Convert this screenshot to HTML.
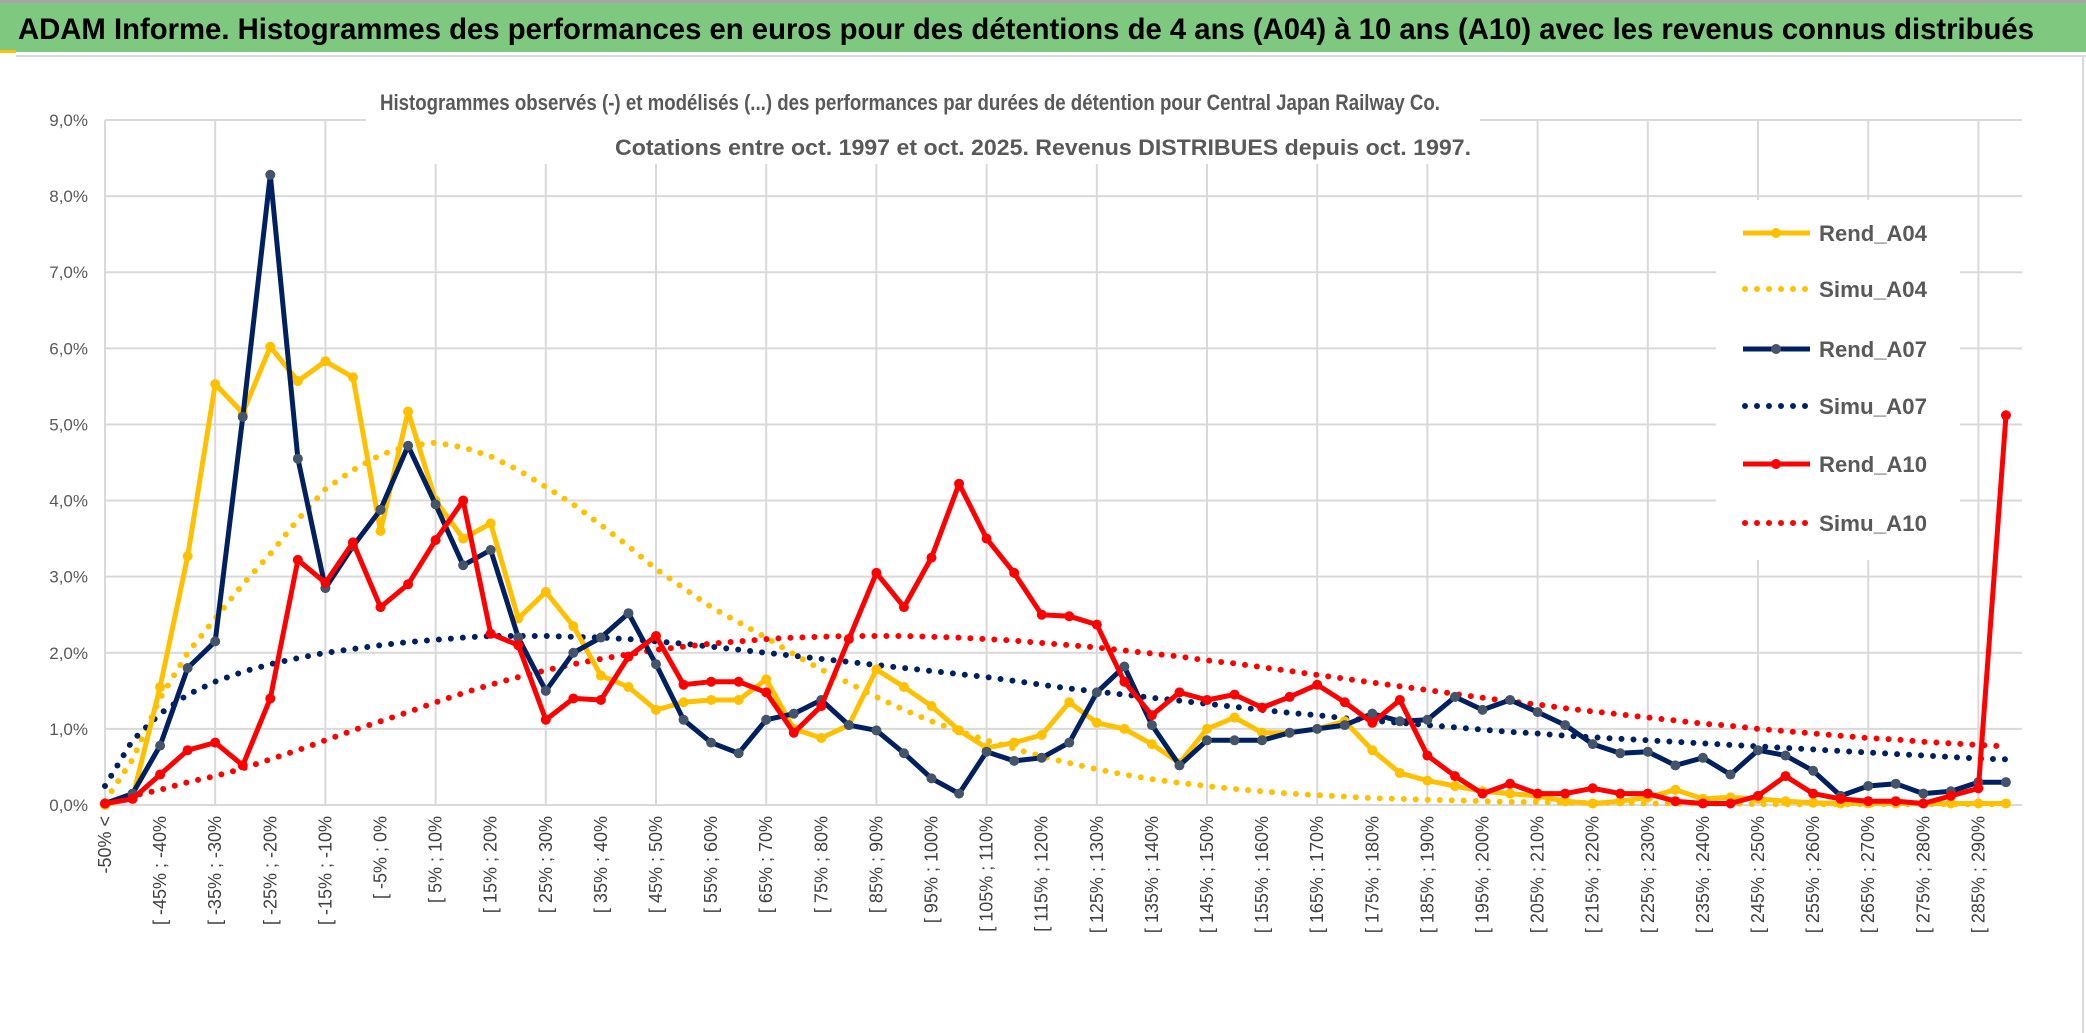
<!DOCTYPE html>
<html><head><meta charset="utf-8">
<style>
html,body{margin:0;padding:0;background:#fff;}
svg{display:block;font-family:"Liberation Sans",sans-serif;}
</style></head>
<body>
<svg id="chart" width="2086" height="1033" viewBox="0 0 2086 1033" xmlns="http://www.w3.org/2000/svg">
  <rect x="0" y="0" width="2086" height="1033" fill="#fff"/>
  <rect x="0" y="0" width="2086" height="3" fill="#a6a6a6"/>
  <rect x="0" y="3" width="2086" height="49" fill="#7ec87f"/>
  <rect x="0" y="50" width="16" height="3" fill="#ffc000"/>
  <rect x="16" y="55" width="2070" height="2" fill="#d9d9d9"/>
  <text x="18" y="39" font-size="30" font-weight="bold" fill="#000" textLength="2016" lengthAdjust="spacingAndGlyphs">ADAM Informe. Histogrammes des performances en euros pour des détentions de 4 ans (A04) à 10 ans (A10) avec les revenus connus distribués</text>
  <rect x="2082" y="57" width="2" height="976" fill="#d9d9d9"/>
  <g id="grid"></g>
  <rect x="366" y="78" width="1114" height="86" fill="#fff"/>
  <text x="910" y="110" font-size="22" font-weight="bold" fill="#595959" text-anchor="middle" textLength="1060" lengthAdjust="spacingAndGlyphs">Histogrammes observés (-) et modélisés (...) des performances par durées de détention pour Central Japan Railway Co.</text>
  <text x="1043" y="155" font-size="22" font-weight="bold" fill="#595959" text-anchor="middle" textLength="856" lengthAdjust="spacingAndGlyphs">Cotations entre oct. 1997 et oct. 2025. Revenus DISTRIBUES depuis oct. 1997.</text>
  <g id="yaxis"></g>
  <g id="xaxis"></g>
  <g id="series"></g>
  <g id="legend"></g>
</svg>
<script>
const yTicks = [0,1,2,3,4,5,6,7,8,9];
const yTickLabels = ["0,0%","1,0%","2,0%","3,0%","4,0%","5,0%","6,0%","7,0%","8,0%","9,0%"];
const categories = ["-50% <"];
for (let a = -50; a < 295; a += 5) categories.push("[ " + a + "% ; " + (a + 5) + "%");
const rendA04 = [0.0,0.1,1.55,3.27,5.53,5.15,6.02,5.57,5.83,5.62,3.6,5.17,4.0,3.5,3.7,2.45,2.8,2.35,1.7,1.55,1.25,1.35,1.38,1.38,1.65,1.0,0.88,1.05,1.78,1.55,1.3,0.98,0.75,0.82,0.92,1.35,1.08,1.0,0.8,0.55,1.0,1.15,0.95,0.95,1.0,1.1,0.72,0.42,0.32,0.25,0.18,0.15,0.12,0.05,0.02,0.05,0.1,0.2,0.08,0.1,0.08,0.05,0.03,0.02,0.02,0.02,0.02,0.02,0.02,0.02];
const simuA04 = [0.05,0.6,1.4,2.0,2.45,2.9,3.3,3.75,4.15,4.4,4.6,4.72,4.76,4.7,4.58,4.4,4.18,3.95,3.68,3.4,3.1,2.85,2.6,2.4,2.2,1.98,1.78,1.6,1.42,1.25,1.1,0.97,0.85,0.74,0.64,0.55,0.47,0.4,0.34,0.29,0.25,0.21,0.18,0.15,0.13,0.11,0.09,0.08,0.07,0.06,0.05,0.04,0.04,0.03,0.03,0.03,0.02,0.02,0.02,0.02,0.01,0.01,0.01,0.01,0.01,0.01,0.01,0.01,0.01,0.01];
const rendA07 = [0.02,0.15,0.78,1.8,2.15,5.1,8.28,4.55,2.85,3.4,3.88,4.72,3.95,3.15,3.35,2.2,1.5,2.0,2.2,2.52,1.85,1.12,0.82,0.68,1.12,1.2,1.38,1.05,0.98,0.68,0.35,0.15,0.7,0.58,0.62,0.82,1.48,1.82,1.05,0.52,0.85,0.85,0.85,0.95,1.0,1.05,1.2,1.1,1.12,1.42,1.25,1.38,1.22,1.05,0.8,0.68,0.7,0.52,0.62,0.4,0.72,0.65,0.45,0.12,0.25,0.28,0.15,0.18,0.3,0.3];
const simuA07 = [0.25,0.85,1.2,1.45,1.62,1.75,1.85,1.93,2.0,2.05,2.1,2.14,2.17,2.2,2.22,2.22,2.22,2.21,2.2,2.18,2.15,2.12,2.08,2.04,2.0,1.96,1.92,1.88,1.84,1.8,1.76,1.72,1.68,1.63,1.58,1.53,1.49,1.45,1.41,1.37,1.33,1.29,1.25,1.21,1.18,1.14,1.11,1.08,1.05,1.02,0.99,0.96,0.94,0.91,0.89,0.87,0.85,0.83,0.81,0.79,0.77,0.75,0.73,0.71,0.69,0.67,0.65,0.63,0.61,0.6];
const rendA10 = [0.02,0.08,0.4,0.72,0.82,0.52,1.4,3.22,2.92,3.45,2.6,2.9,3.48,4.0,2.25,2.1,1.12,1.4,1.38,1.95,2.22,1.58,1.62,1.62,1.48,0.95,1.3,2.18,3.05,2.6,3.25,4.22,3.5,3.05,2.5,2.48,2.37,1.62,1.18,1.48,1.38,1.45,1.28,1.42,1.58,1.35,1.08,1.38,0.65,0.38,0.15,0.28,0.15,0.15,0.22,0.15,0.15,0.05,0.02,0.02,0.12,0.38,0.15,0.08,0.05,0.05,0.02,0.12,0.22,5.12];
const simuA10 = [0.02,0.12,0.2,0.3,0.38,0.48,0.6,0.72,0.85,0.98,1.1,1.22,1.35,1.47,1.58,1.68,1.77,1.85,1.92,1.98,2.04,2.08,2.12,2.15,2.18,2.2,2.21,2.22,2.22,2.22,2.21,2.2,2.18,2.16,2.13,2.1,2.07,2.03,1.99,1.95,1.9,1.86,1.81,1.76,1.71,1.66,1.61,1.56,1.51,1.46,1.41,1.36,1.32,1.27,1.23,1.19,1.15,1.11,1.07,1.04,1.0,0.97,0.94,0.91,0.88,0.86,0.83,0.81,0.79,0.77];
const seriesNames = ["Rend_A04","Simu_A04","Rend_A07","Simu_A07","Rend_A10","Simu_A10"];

const NS = "http://www.w3.org/2000/svg";
const PL = 105, PR = 2022, Y0 = 805, Y9 = 120;
const STEP = 27.55;
function xPos(i){ return PL + i * STEP; }
function yPos(v){ return Y0 - (v / 9) * (Y0 - Y9); }
function mk(tag, attrs, parent){
  const el = document.createElementNS(NS, tag);
  for (const k in attrs) el.setAttribute(k, attrs[k]);
  parent.appendChild(el);
  return el;
}
const grid = document.getElementById('grid');
yTicks.forEach(t => {
  const l = mk('line', {x1: PL, x2: PR, y1: yPos(t), y2: yPos(t), stroke: '#d9d9d9', 'stroke-width': 2}, grid);
  
  
});
for (let i = 0; i < categories.length; i += 4) {
  const l = mk('line', {x1: xPos(i), x2: xPos(i), y1: Y9, y2: Y0, stroke: '#d9d9d9', 'stroke-width': 2}, grid);
  
  
}
const yaxis = document.getElementById('yaxis');
yTicks.forEach((t, k) => {
  const tx = mk('text', {x: 88, y: yPos(t) + 6, 'font-size': 17, fill: '#595959', 'text-anchor': 'end'}, yaxis);
  tx.textContent = yTickLabels[k];
  
  
});
const xaxis = document.getElementById('xaxis');
categories.forEach((c, i) => {
  if (i % 2 !== 0) return;
  const x = xPos(i) + 6, y = 816;
  const tx = mk('text', {x: x, y: y, 'font-size': 18, fill: '#404040', 'text-anchor': 'end', transform: 'rotate(-90 ' + x + ' ' + y + ')'}, xaxis);
  tx.textContent = c;
  
  
});
const ser = document.getElementById('series');
function pts(arr){ return arr.map((v, i) => xPos(i).toFixed(1) + ',' + yPos(v).toFixed(1)).join(' '); }
function dotted(arr, color, name){
  const p = mk('polyline', {points: pts(arr), fill: 'none', stroke: color, 'stroke-width': 6, 'stroke-linecap': 'round', 'stroke-dasharray': '0 12'}, ser);
  
  
}
function solid(arr, color, mcolor, name){
  const p = mk('polyline', {points: pts(arr), fill: 'none', stroke: color, 'stroke-width': 5, 'stroke-linejoin': 'round'}, ser);
  
  
  arr.forEach((v, i) => {
    const c = mk('circle', {cx: xPos(i), cy: yPos(v), r: 5, fill: mcolor}, ser);
    
    
  });
}
dotted(simuA04, '#ffc000', 'simu-a04-line');
dotted(simuA07, '#002060', 'simu-a07-line');
dotted(simuA10, '#ff0000', 'simu-a10-line');
solid(rendA04, '#ffc000', '#ffc000', 'rend-a04-line');
solid(rendA07, '#002060', '#44546a', 'rend-a07-line');
solid(rendA10, '#ff0000', '#ff0000', 'rend-a10-line');

const leg = document.getElementById('legend');
const lb = mk('rect', {x: 1716, y: 200, width: 244, height: 360, fill: '#fff'}, leg);


const legColors = ['#ffc000','#ffc000','#002060','#002060','#ff0000','#ff0000'];
const legMarker = ['#ffc000',null,'#44546a',null,'#ff0000',null];
const legY = [233,289,349,406,464,523];
seriesNames.forEach((n, k) => {
  const y = legY[k];
  if (legMarker[k]) {
    const l = mk('line', {x1: 1743, x2: 1810, y1: y, y2: y, stroke: legColors[k], 'stroke-width': 5}, leg);
    
    
    const c = mk('circle', {cx: 1776, cy: y, r: 5, fill: legMarker[k]}, leg);
    
    
  } else {
    const l = mk('line', {x1: 1745, x2: 1810, y1: y, y2: y, stroke: legColors[k], 'stroke-width': 6, 'stroke-linecap': 'round', 'stroke-dasharray': '0 12'}, leg);
    
    
  }
  const t = mk('text', {x: 1819, y: y + 8, 'font-size': 22, fill: '#595959', 'font-weight': 'bold', textLength: 108, lengthAdjust: 'spacingAndGlyphs'}, leg);
  t.textContent = n;
  
  
});
</script>
</body></html>
